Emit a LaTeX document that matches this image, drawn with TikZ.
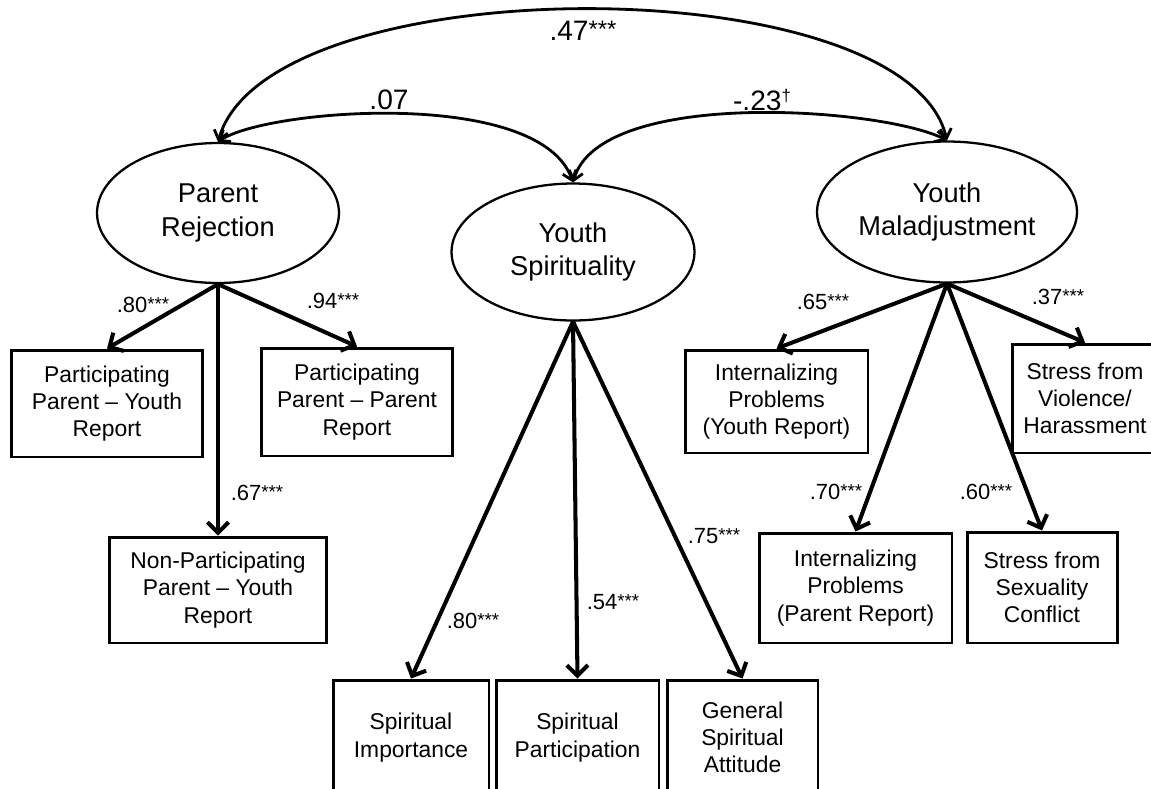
\documentclass[tikz,border=0pt]{standalone}
\usepackage{fontspec}
\setmainfont{Liberation Sans}
\usetikzlibrary{shapes.geometric,arrows.meta}
\makeatletter
\newcommand{\sig}[1]{\raisebox{.1em}{\fontsize{\fpeval{0.85*\f@size}}{0}\selectfont #1}}
\newcommand{\trend}[1]{\raisebox{.32em}{\fontsize{\fpeval{0.6*\f@size}}{0}\selectfont #1}}
\makeatother
\tikzset{
  latent/.style={ellipse, draw, line width=1.3pt, align=center, inner sep=0pt,
    font=\fontsize{15.5}{19}\selectfont},
  observed/.style={rectangle, draw, line width=1.7pt, align=center, inner sep=2pt,
    font=\fontsize{13}{15.5}\selectfont},
  loading/.style={line width=2.3pt, -{Straight Barb[length=6pt,width=12pt]}},
  covar/.style={line width=1.6pt,
    {Straight Barb[length=5pt,width=8pt]}-{Straight Barb[length=5pt,width=8pt]}},
  coef/.style={inner sep=0pt, font=\fontsize{12.5}{15}\selectfont},
  bigcoef/.style={inner sep=0pt, font=\fontsize{16}{19}\selectfont}
}
\begin{document}
\begin{tikzpicture}[x=0.02cm, y=-0.02cm]
  \useasboundingbox (0,0) rectangle (1151,788);
  \clip (0,0) rectangle (1151,788);

  % latent factors
  \node[latent, minimum width=4.84cm, minimum height=2.8cm] (pr) at (218,213) {Parent\\Rejection};
  \node[latent, minimum width=4.86cm, minimum height=2.74cm] (ys) at (573,252) {Youth\\Spirituality};
  \node[latent, minimum width=5.2cm, minimum height=2.82cm] (ym) at (947,212) {Youth\\Maladjustment};

  % indicators of parent rejection
  \node[observed, minimum width=3.84cm, minimum height=2.14cm] (ppy) at (107,403.5) {Participating\\Parent – Youth\\Report};
  \node[observed, minimum width=3.84cm, minimum height=2.16cm] (ppp) at (357,402) {Participating\\Parent – Parent\\Report};
  \node[observed, minimum width=4.36cm, minimum height=2.12cm] (nppy) at (218,590) {Non-Participating\\Parent – Youth\\Report};

  % indicators of youth maladjustment
  \node[observed, minimum width=3.66cm, minimum height=2.06cm] (ipy) at (776.5,401.5) {Internalizing\\Problems\\(Youth Report)};
  \node[observed, minimum width=2.92cm, minimum height=2.18cm] (svh) at (1085,398.5) {Stress from\\Violence/\\Harassment};
  \node[observed, minimum width=3.86cm, minimum height=2.2cm] (ipp) at (855.5,588) {Internalizing\\Problems\\(Parent Report)};
  \node[observed, minimum width=3.0cm, minimum height=2.22cm] (ssc) at (1042,587.5) {Stress from\\Sexuality\\Conflict};

  % indicators of youth spirituality
  \node[observed, minimum width=3.12cm, minimum height=2.3cm] (si) at (411,737.5) {Spiritual\\Importance};
  \node[observed, minimum width=3.26cm, minimum height=2.3cm] (sp) at (577.5,737.5) {Spiritual\\Participation};
  \node[observed, minimum width=3.02cm, minimum height=2.3cm] (gsa) at (742.5,737.5) {General\\Spiritual\\Attitude};

  % loadings
  \draw[loading] (pr.south) -- (ppy.north);
  \draw[loading] (pr.south) -- (ppp.north);
  \draw[loading] (pr.south) -- (nppy.north);
  \draw[loading] (ym.south) -- (ipy.north);
  \draw[loading] (ym.south) -- (svh.north);
  \draw[loading] (ym.south) -- (ipp.north);
  \draw[loading] (ym.south) -- (ssc.north);
  \draw[loading] (ys.south) -- (si.north);
  \draw[loading] (ys.south) -- (sp.north);
  \draw[loading] (ys.south) -- (gsa.north);

  \node[coef] (cppy) at (143,305) {.80\sig{***}};
  \node[coef] (cppp) at (333,301) {.94\sig{***}};
  \node[coef] (cnppy) at (257,493) {.67\sig{***}};
  \node[coef] (cipy) at (823,302) {.65\sig{***}};
  \node[coef] (csvh) at (1058,297) {.37\sig{***}};
  \node[coef] (cipp) at (836,492) {.70\sig{***}};
  \node[coef] (cssc) at (986,492) {.60\sig{***}};
  \node[coef] (csi) at (473,621) {.80\sig{***}};
  \node[coef] (csp) at (613,602) {.54\sig{***}};
  \node[coef] (cgsa) at (714,536) {.75\sig{***}};

  % factor correlations
  \draw[covar] (pr.north) .. controls +(50,-176) and +(-42,-175) .. (ym.north);
  \draw[covar] (pr.north) .. controls +(49,-33) and +(-33,-95) .. (ys.north);
  \draw[covar] (ys.north) .. controls +(27,-95) and +(-65,-33) .. (ym.north);

  \node[bigcoef] (c47) at (583,31) {.47\sig{***}};
  \node[bigcoef] (c07) at (389,100) {.07};
  \node[bigcoef] (c23) at (762,100) {-.23\trend{†}};
\end{tikzpicture}
\end{document}
